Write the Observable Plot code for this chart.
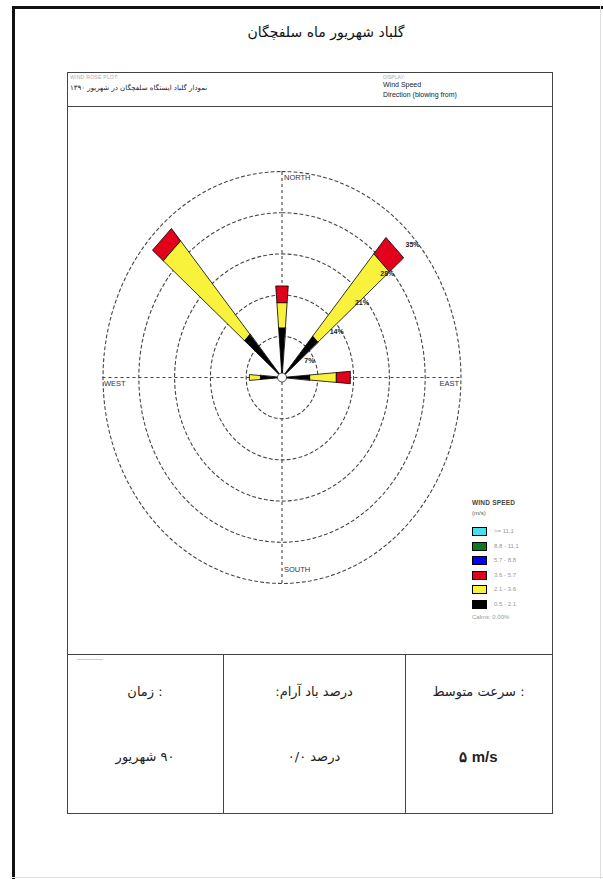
<!DOCTYPE html>
<html><head><meta charset="utf-8">
<script src="https://cdn.jsdelivr.net/npm/d3@7"></script>
<script src="https://cdn.jsdelivr.net/npm/@observablehq/plot@0.6"></script>
<style>
html,body{margin:0;padding:0;background:#fff;}
#page{position:relative;width:603px;height:879px;overflow:hidden;font-family:"Liberation Sans",Arial,sans-serif;background:#fff;}
#page div{position:absolute;box-sizing:border-box;}
.fa{font-family:"DejaVu Sans",sans-serif;}
</style></head><body><div id="page"></div>
<script>
// ---------- data ----------
const directions = ["N", "NE", "E", "W", "NW"];
const bearings = [0, 45, 90, 270, 315];
const speedClasses = ["0.5 - 2.1", "2.1 - 3.6", "3.6 - 5.7"];
const freqClass1 = [8.5, 9.3, 5.5, 4.3, 9.7];    // 0.5 - 2.1 m/s (%)
const freqClass2 = [4.3, 18.4, 5.2, 2.1, 20.9];  // 2.1 - 3.6 m/s (%)
const freqClass3 = [2.8, 3.6, 2.7, 0, 2.7];      // 3.6 - 5.7 m/s (%)
const classColors = ["#000000", "#f8f23c", "#e3001b"];
const ringValues = [7, 14, 21, 28, 35];
const ringLabels = ["7%", "14%", "21%", "28%", "35%"];
const compassNames = ["NORTH", "EAST", "SOUTH", "WEST"];
const compassBearings = [0, 90, 180, 270];
const legendTitle = "WIND SPEED";
const legendUnit = "(m/s)";
const legendLabels = [">= 11.1", "8.8 - 11.1", "5.7 - 8.8", "3.6 - 5.7", "2.1 - 3.6", "0.5 - 2.1"];
const legendColors = ["#44e0ee", "#0d7a22", "#0000ff", "#e3001b", "#f8f23c", "#000000"];
const calmsText = "Calms: 0.00%";
const titleText = "گلباد شهریور ماه سلفچگان";
const headerLeftSmall = "WIND ROSE PLOT:";
const headerLeftText = "نمودار گلباد ایستگاه سلفچگان در شهریور ۱۳۹۰";
const headerRightSmall = "DISPLAY:";
const headerRightLines = ["Wind Speed", "Direction (blowing from)"];
const tableHeaders = ["زمان :", "درصد باد آرام:", "سرعت متوسط :"];
const tableValues = ["۹۰ شهریور", "درصد ۰/۰", "۵ m/s"];

// ---------- page layout ----------
const page = document.getElementById("page");
function box(css, text, cls) {
  const d = document.createElement("div");
  d.style.cssText = css;
  if (text != null) d.textContent = text;
  if (cls) d.className = cls;
  page.appendChild(d);
  return d;
}
// page frame
box("left:12px;top:6px;width:3px;height:873px;background:#111;");
box("left:12px;top:6px;width:591px;height:3px;background:#111;");
box("left:600px;top:6px;width:1px;height:873px;background:#ddd;");
box("left:12px;top:877px;width:591px;height:1px;background:#ddd;");
// title
box("left:0;top:22px;width:652px;text-align:center;font-size:14px;line-height:20px;color:#111;", titleText, "fa");
// chart box
const BX0 = 67, BY0 = 72, BX1 = 552, BY1 = 813;
box(`left:${BX0}px;top:${BY0}px;width:${BX1 - BX0 + 1}px;height:${BY1 - BY0 + 1}px;border:1px solid #444;`);
box(`left:${BX0}px;top:106px;width:${BX1 - BX0 + 1}px;height:1px;background:#444;`);
box(`left:${BX0}px;top:654px;width:${BX1 - BX0 + 1}px;height:1px;background:#444;`);
box(`left:223px;top:654px;width:1px;height:${BY1 - 654}px;background:#444;`);
box(`left:405px;top:654px;width:1px;height:${BY1 - 654}px;background:#444;`);
box("left:77px;top:659px;width:26px;height:1px;background:#ccc;");
// header texts
box("left:70px;top:74px;font-size:5px;color:#aaa;letter-spacing:0.3px;", headerLeftSmall);
box("left:70px;top:84px;font-size:7px;color:#222;direction:rtl;unicode-bidi:embed;", headerLeftText, "fa");
box("left:383px;top:74px;font-size:5px;color:#aaa;", headerRightSmall);
box("left:383px;top:80px;font-size:7px;line-height:9px;color:#222;", headerRightLines[0]);
box("left:383px;top:90px;font-size:7px;line-height:9px;color:#222;", headerRightLines[1]);
// table
const cols = [[BX0, 223], [223, 405], [405, BX1]];
const headDir = ["ltr", "rtl", "ltr"];
cols.forEach(([a, b], i) => {
  box(`left:${a}px;top:681px;width:${b - a}px;text-align:center;font-size:13px;line-height:22px;color:#222;direction:${headDir[i]};`, tableHeaders[i], "fa");
  const v = box(`left:${a}px;top:746px;width:${b - a}px;text-align:center;font-size:13px;line-height:22px;color:#222;direction:${i === 2 ? "ltr" : "rtl"};`, tableValues[i], "fa");
  if (i === 2) { v.style.fontWeight = "bold"; v.style.fontSize = "15px"; v.style.fontFamily = '"Liberation Sans",Arial,sans-serif'; }
});
// legend
box("left:472px;top:499px;font-size:6.5px;color:#444;font-weight:bold;letter-spacing:0.2px;", legendTitle);
box("left:472px;top:510px;font-size:6px;color:#555;", legendUnit);
legendLabels.forEach((lab, i) => {
  const y = 527 + i * 14.5;
  box(`left:472px;top:${y}px;width:15px;height:9px;background:${legendColors[i]};border:1px solid #000;`);
  box(`left:494px;top:${y}px;font-size:6px;line-height:9px;color:#999;`, lab);
});
box("left:472px;top:613px;font-size:6px;line-height:9px;color:#999;", calmsText);

// ---------- wind rose (Plot) ----------
const W = 483, H = 546, SVGX = 68, SVGY = 107;
const cx = 281.5 - SVGX, cy = 377 - SVGY;
const kx = 35.8 / 7, ky = 41.2 / 7; // px per percent
const rad = Math.PI / 180;
const half = 4.5 * rad;
const P = (r, a) => ({x: r * Math.sin(a), y: r * Math.cos(a)});

const classes = [freqClass1, freqClass2, freqClass3];
const wedgePts = [];
directions.forEach((d, i) => {
  let r0 = 0;
  const th = bearings[i] * rad;
  classes.forEach((arr, k) => {
    const v = arr[i];
    if (!v) return;
    const r1 = r0 + v;
    const id = d + "-" + k;
    const pts = r0 === 0
      ? [P(0, th), P(r1, th - half), P(r1, th + half)]
      : [P(r0, th - half), P(r1, th - half), P(r1, th + half), P(r0, th + half)];
    pts.forEach(p => wedgePts.push({...p, id, k}));
    r0 = r1;
  });
});

const ringPts = [];
ringValues.forEach(r => {
  for (let a = 0; a <= 360; a += 3) ringPts.push({...P(r, a * rad), r});
});
const maxRing = ringValues[ringValues.length - 1];

const compass = compassNames.map((n, i) => ({name: n, ...P(maxRing, compassBearings[i] * rad)}));
const ringLab = ringValues.map((v, i) => ({label: ringLabels[i], ...P(v, 45 * rad)}));

const chart = Plot.plot({
  width: W, height: H, margin: 0,
  x: {domain: [-cx / kx, (W - cx) / kx], range: [0, W], axis: null},
  y: {domain: [-(H - cy) / ky, cy / ky], range: [H, 0], axis: null},
  style: {background: "transparent", overflow: "visible", fontFamily: '"Liberation Sans",Arial,sans-serif'},
  marks: [
    Plot.line(ringPts, {x: "x", y: "y", z: "r", stroke: "#444", strokeWidth: 1.1, strokeDasharray: "3,3"}),
    Plot.ruleY([0], {x1: -maxRing, x2: maxRing, stroke: "#444", strokeWidth: 1.1, strokeDasharray: "3,3"}),
    Plot.ruleX([0], {y1: -maxRing, y2: maxRing, stroke: "#444", strokeWidth: 1.1, strokeDasharray: "3,3"}),
    ...classes.map((_, k) => Plot.line(wedgePts.filter(p => p.k === k), {
      x: "x", y: "y", z: "id", curve: "linear-closed",
      fill: classColors[k], stroke: "#000", strokeWidth: 0.8
    })),
    Plot.dot([{x: 0, y: 0}], {x: "x", y: "y", r: 4.5, fill: "white", stroke: "#222", strokeWidth: 0.8}),
    Plot.text(compass.filter(c => c.name === "NORTH"), {x: "x", y: "y", text: "name", textAnchor: "start", dx: 2, dy: 6, fontSize: 7.5, fill: "#333"}),
    Plot.text(compass.filter(c => c.name === "SOUTH"), {x: "x", y: "y", text: "name", textAnchor: "start", dx: 2, dy: -14, fontSize: 7.5, fill: "#333"}),
    Plot.text(compass.filter(c => c.name === "WEST"), {x: "x", y: "y", text: "name", textAnchor: "start", dx: 1, dy: 6, fontSize: 7.5, fill: "#333"}),
    Plot.text(compass.filter(c => c.name === "EAST"), {x: "x", y: "y", text: "name", textAnchor: "end", dx: -2, dy: 6, fontSize: 7.5, fill: "#333"}),
    Plot.text(ringLab, {x: "x", y: "y", text: "label", textAnchor: "start", dx: -3, dy: 12.5, fontSize: 7, fontWeight: "bold", fill: "#222"})
  ]
});
const holder = document.createElement("div");
holder.style.cssText = `left:${SVGX}px;top:${SVGY}px;width:${W}px;height:${H}px;`;
holder.appendChild(chart);
page.appendChild(holder);
</script></body></html>
